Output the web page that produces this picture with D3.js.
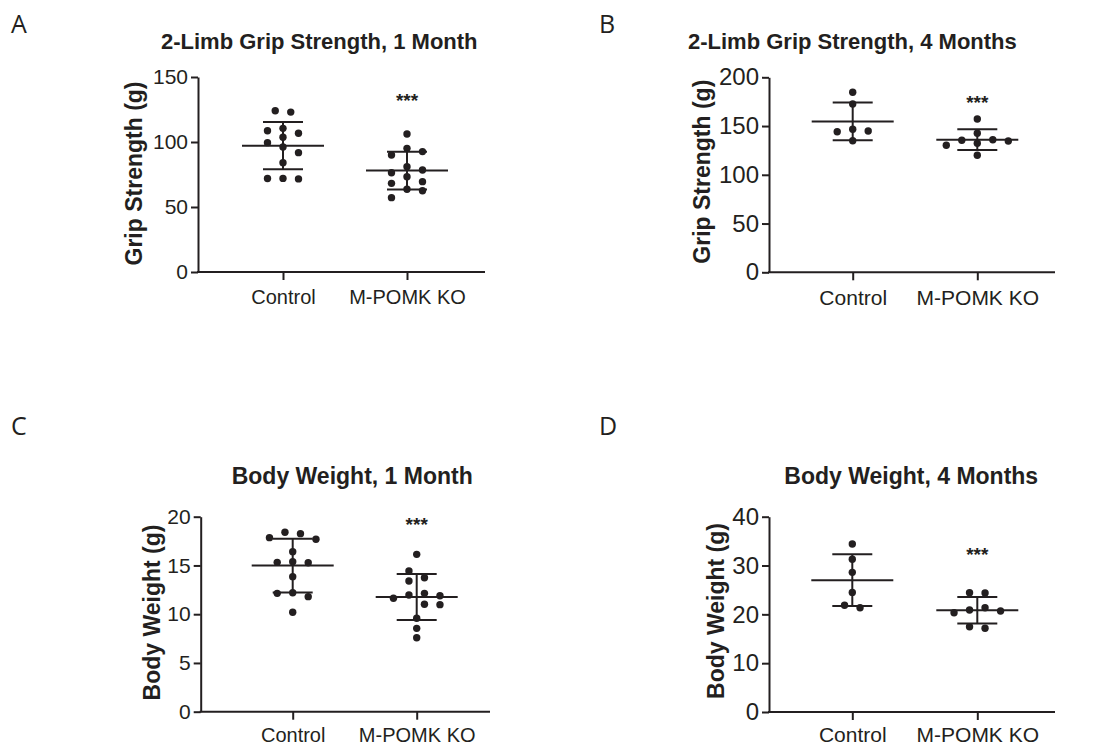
<!DOCTYPE html>
<html>
<head>
<meta charset="utf-8">
<script src="https://cdn.jsdelivr.net/npm/d3@7"></script>
<style>
  body { margin: 0; background: #fff; }
  svg text { fill: #231f20; }
</style>
</head>
<body>
<div id="figure"></div>
<script>
const groups = ["Control", "M-POMK KO"];

// 2-limb grip strength (g), 1 month
const grip1mControl = [124, 123, 110.5, 108.7, 106.7, 103.6, 99.5, 96.2, 91.8, 84.1, 72.0, 71.6, 71.9];
const grip1mKO = [106.2, 95.1, 92.6, 90.0, 81.0, 78.5, 76.4, 73.3, 69.5, 68.2, 63.6, 62.5, 57.2];
// 2-limb grip strength (g), 4 months
const grip4mControl = [184.6, 172.6, 146.7, 145.0, 144.2, 135.0];
const grip4mKO = [157.2, 142.6, 135.9, 135.5, 134.7, 132.3, 130.3, 120.0];
// body weight (g), 1 month
const weight1mControl = [18.4, 18.26, 17.85, 17.68, 16.41, 15.38, 15.32, 15.28, 13.85, 12.2, 12.14, 11.8, 10.2];
const weight1mKO = [16.14, 14.43, 13.74, 13.4, 12.14, 11.97, 11.9, 11.63, 11.02, 10.98, 9.58, 8.55, 7.59];
// body weight (g), 4 months
const weight4mControl = [34.4, 31.27, 28.6, 24.5, 21.85, 21.36];
const weight4mKO = [24.43, 24.37, 21.36, 20.89, 20.68, 20.34, 17.47, 17.14];

const grip1mTicks = [0, 50, 100, 150];
const grip4mTicks = [0, 50, 100, 150, 200];
const weight1mTicks = [0, 5, 10, 15, 20];
const weight4mTicks = [0, 10, 20, 30, 40];

const panelLetters = ["A", "B", "C", "D"];
const panelTitles = ["2-Limb Grip Strength, 1 Month", "2-Limb Grip Strength, 4 Months",
                     "Body Weight, 1 Month", "Body Weight, 4 Months"];
const yTitles = ["Grip Strength (g)", "Grip Strength (g)", "Body Weight (g)", "Body Weight (g)"];
const significance = ["***", "***", "***", "***"];

const panelData = [
  [grip1mControl, grip1mKO],
  [grip4mControl, grip4mKO],
  [weight1mControl, weight1mKO],
  [weight4mControl, weight4mKO]
];
const panelTicks = [grip1mTicks, grip4mTicks, weight1mTicks, weight4mTicks];

// where each panel sits on the page
const layout = [
  {left: 198, right: 485, top: 77, bottom: 272, cat: [283, 407], catPad: 10,
   letterX: 11, letterY: 33, titleX: 161, titleY: 49, titleSize: 22,
   yTitleX: 142, yTitleY: 173.5, tickSize: 21, catSize: 20, starsAt: 127},
  {left: 769, right: 1055, top: 77.3, bottom: 272.3, cat: [852.7, 977.3], catPad: 10,
   letterX: 599, letterY: 33, titleX: 688, titleY: 49, titleSize: 22,
   yTitleX: 710, yTitleY: 171.7, tickSize: 24, catSize: 21, starsAt: 168},
  {left: 200.7, right: 490, top: 516.7, bottom: 711.7, cat: [292.7, 416.7], catPad: 8,
   letterX: 11, letterY: 435, titleX: 231.7, titleY: 484, titleSize: 23,
   yTitleX: 160, yTitleY: 612.5, tickSize: 21, catSize: 20, starsAt: 18.5},
  {left: 769, right: 1055, top: 516.7, bottom: 712, cat: [852.3, 977.3], catPad: 7,
   letterX: 599, letterY: 435, titleX: 784.3, titleY: 484, titleSize: 23,
   yTitleX: 723.5, yTitleY: 611, tickSize: 24, catSize: 21, starsAt: 31}
];

const ink = "#231f20";
const font = "'Liberation Sans', Arial, Helvetica, sans-serif";
const dotR = 3.7, colW = 15.5, minGap = 8.5, meanHalf = 41, sdHalf = 20;

// prism-like scatter: columns next to the centre, rows re-centred afterwards
function spread(values, y) {
  const order = d3.range(values.length).sort((a, b) => values[b] - values[a]);
  const placed = [];
  let left = 0, right = 0;
  order.forEach(i => {
    const py = y(values[i]);
    const free = c => placed.every(p => p.col !== c || Math.abs(p.py - py) >= minGap);
    let col = 0;
    if (!free(0)) {
      for (let k = 1; ; k++) {
        const l = free(-k), r = free(k);
        if (l && r) { col = left < right ? -k : k; break; }
        if (r) { col = k; break; }
        if (l) { col = -k; break; }
      }
    }
    if (col < 0) left++;
    if (col > 0) right++;
    placed.push({i, py, col});
  });
  placed.sort((a, b) => a.py - b.py);
  const offsets = new Array(values.length).fill(0);
  let start = 0;
  for (let j = 1; j <= placed.length; j++) {
    if (j === placed.length || placed[j].py - placed[j - 1].py >= minGap) {
      const run = placed.slice(start, j);
      const shift = -(d3.min(run, p => p.col) + d3.max(run, p => p.col)) / 2;
      run.forEach(p => { offsets[p.i] = (p.col + shift) * colW; });
      start = j;
    }
  }
  return offsets;
}

const svg = d3.select("#figure").append("svg")
  .attr("width", 1098)
  .attr("height", 747)
  .style("font-family", font);

panelData.forEach((series, pi) => {
  const L = layout[pi];
  const ticks = panelTicks[pi];
  const g = svg.append("g");

  const y = d3.scaleLinear().domain([0, d3.max(ticks)]).range([L.bottom, L.top]);
  const x = d3.scalePoint().domain(groups).range(L.cat);

  g.append("text")
    .attr("x", L.letterX).attr("y", L.letterY)
    .style("font-family", "'Open Sans', 'DejaVu Sans', sans-serif")
    .style("font-size", "25px")
    .text(panelLetters[pi]);

  g.append("text")
    .attr("x", L.titleX).attr("y", L.titleY)
    .style("font-weight", "bold")
    .style("font-size", L.titleSize + "px")
    .text(panelTitles[pi]);

  g.append("text")
    .attr("transform", `translate(${L.yTitleX},${L.yTitleY}) rotate(-90)`)
    .attr("text-anchor", "middle")
    .style("font-weight", "bold")
    .style("font-size", "23px")
    .text(yTitles[pi]);

  // y axis
  const ya = g.append("g")
    .attr("transform", `translate(${L.left},0)`)
    .call(d3.axisLeft(y).tickValues(ticks).tickSize(7).tickPadding(3).tickSizeOuter(0));
  ya.attr("font-family", null).attr("font-size", null);
  ya.selectAll("path, line").attr("stroke", ink).attr("stroke-width", 2);
  ya.selectAll("text").style("font-size", L.tickSize + "px").attr("fill", ink);

  // x axis
  g.append("line")
    .attr("x1", L.left - 1).attr("x2", L.right)
    .attr("y1", y(0)).attr("y2", y(0))
    .attr("stroke", ink).attr("stroke-width", 2);
  const xa = g.append("g")
    .attr("transform", `translate(0,${y(0)})`)
    .call(d3.axisBottom(x).tickSize(8).tickPadding(L.catPad).tickSizeOuter(0));
  xa.attr("font-family", null).attr("font-size", null);
  xa.select(".domain").remove();
  xa.selectAll("line").attr("stroke", ink).attr("stroke-width", 2);
  xa.selectAll("text").style("font-size", L.catSize + "px").attr("fill", ink);

  series.forEach((values, gi) => {
    const cx = x(groups[gi]);
    const offs = spread(values, y);
    g.append("g").selectAll("circle")
      .data(values)
      .enter().append("circle")
      .attr("cx", (d, i) => cx + offs[i])
      .attr("cy", d => y(d))
      .attr("r", dotR)
      .attr("fill", ink);

    const m = d3.mean(values), sd = d3.deviation(values);
    const bars = g.append("g").attr("stroke", ink).attr("stroke-width", 2);
    bars.append("line")
      .attr("x1", cx - meanHalf).attr("x2", cx + meanHalf)
      .attr("y1", y(m)).attr("y2", y(m));
    [m + sd, m - sd].forEach(v => {
      bars.append("line")
        .attr("x1", cx - sdHalf).attr("x2", cx + sdHalf)
        .attr("y1", y(v)).attr("y2", y(v));
    });
    bars.append("line")
      .attr("x1", cx).attr("x2", cx)
      .attr("y1", y(m + sd)).attr("y2", y(m - sd));
  });

  g.append("text")
    .attr("x", x(groups[1])).attr("y", y(L.starsAt))
    .attr("text-anchor", "middle")
    .style("font-weight", "bold")
    .style("font-size", "19px")
    .text(significance[pi]);
});
</script>
</body>
</html>
